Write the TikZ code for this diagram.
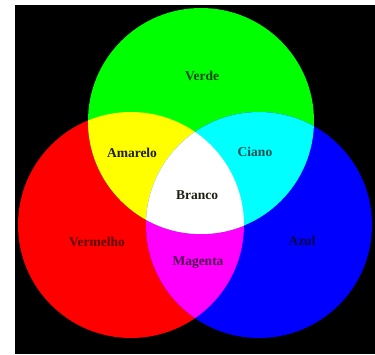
\documentclass[tikz,border=0pt]{standalone}
\usepackage{fontspec}
\setmainfont{Liberation Serif}
\begin{document}
\begin{tikzpicture}[x=1pt,y=-1pt,
  lbl/.style={font=\fontsize{13.5}{15}\selectfont\bfseries, inner sep=0pt}]
\definecolor{cR}{RGB}{255,0,0}
\definecolor{cG}{RGB}{0,255,0}
\definecolor{cB}{RGB}{0,0,255}
\definecolor{cY}{RGB}{255,255,0}
\definecolor{cC}{RGB}{0,255,255}
\definecolor{cM}{RGB}{255,0,255}
\definecolor{cW}{RGB}{255,255,255}
\useasboundingbox (0,0) rectangle (375,354);
\fill[white] (0,0) rectangle (375,354);
\fill[black] (15,5) rectangle (375,354);
\coordinate (G) at (201,121);
\coordinate (R) at (131,225);
\coordinate (B) at (259,225);
\def\rr{113pt}
\fill[cR] (R) circle[radius=\rr];
\fill[cG] (G) circle[radius=\rr];
\fill[cB] (B) circle[radius=\rr];
\begin{scope}
  \clip (R) circle[radius=\rr];
  \fill[cY] (G) circle[radius=\rr];
  \fill[cM] (B) circle[radius=\rr];
\end{scope}
\begin{scope}
  \clip (G) circle[radius=\rr];
  \fill[cC] (B) circle[radius=\rr];
  \clip (B) circle[radius=\rr];
  \fill[cW] (R) circle[radius=\rr];
\end{scope}
\definecolor{tverde}{RGB}{30,70,30}
\definecolor{tciano}{RGB}{20,80,80}
\definecolor{tverm}{RGB}{90,0,0}
\definecolor{tazul}{RGB}{0,0,70}
\definecolor{tmag}{RGB}{80,0,80}
\definecolor{tdark}{RGB}{30,30,20}
\node[lbl, text=tverde] (verde) at (202,76) {Verde};
\node[lbl, text=tdark] (amarelo) at (132,153) {Amarelo};
\node[lbl, text=tciano] (ciano) at (255,152) {Ciano};
\node[lbl, text=tdark] (branco) at (197,195) {Branco};
\node[lbl, text=tverm] (vermelho) at (97,242) {Vermelho};
\node[lbl, text=tazul] (azul) at (302,241) {Azul};
\node[lbl, text=tmag] (magenta) at (198,263) {Magenta};
\end{tikzpicture}
\end{document}
